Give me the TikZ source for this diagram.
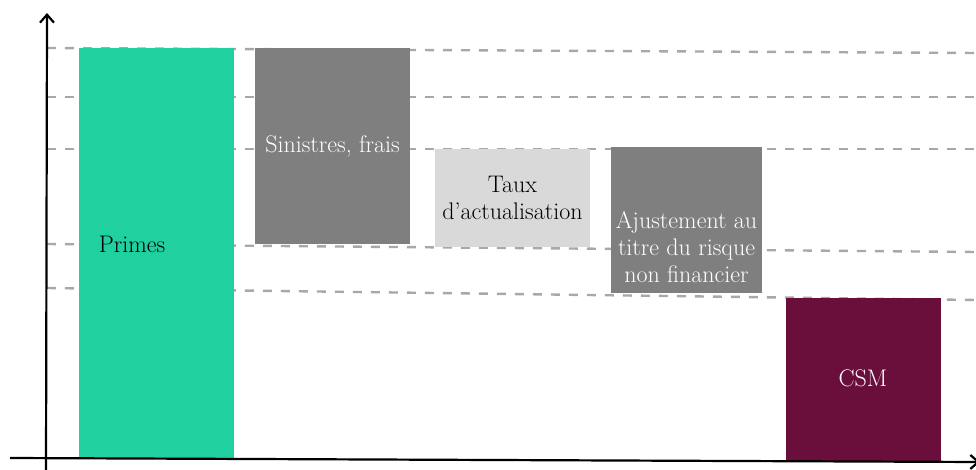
\documentclass[tikz,border=0pt]{standalone}
\usetikzlibrary{arrows.meta}
\definecolor{cgreen}{HTML}{20D09E}
\definecolor{cgray}{HTML}{7F7F7F}
\definecolor{clight}{HTML}{D9D9D9}
\definecolor{cmaroon}{HTML}{6A0F3B}
\definecolor{cdash}{HTML}{A8A8A8}
\tikzset{
  bar/.style={rectangle, inner sep=0pt, outer sep=0pt, anchor=north west},
  lbl/.style={align=center, font=\fontsize{24}{27}\selectfont, inner sep=0pt},
  guide/.style={draw=cdash, line width=2.4pt, dash pattern=on 9pt off 9pt},
  axis/.style={draw=black, line width=2.2pt}
}
\begin{document}
\begin{tikzpicture}[x=1pt,y=-1pt]
\useasboundingbox (0,0) rectangle (976,470);
% guide lines
\coordinate (g1a) at (47,48);  \coordinate (g1b) at (976,53);
\coordinate (g2a) at (47,97);  \coordinate (g2b) at (976,97);
\coordinate (g3a) at (47,149); \coordinate (g3b) at (976,149);
\coordinate (g4a) at (47,244); \coordinate (g4b) at (976,252);
\coordinate (g5a) at (47,288); \coordinate (g5b) at (976,300);
\foreach \i in {1,...,5} {\draw[guide] (g\i a) -- (g\i b);}
% bars
\node[bar, fill=cgreen, minimum width=155pt, minimum height=410pt] (primes) at (79,48) {};
\node[bar, fill=cgray, minimum width=155pt, minimum height=196pt] (sin) at (255,48) {};
\node[bar, fill=clight, minimum width=155pt, minimum height=98pt] (taux) at (435,149) {};
\node[bar, fill=cgray, minimum width=151pt, minimum height=146pt] (aju) at (611,147) {};
\node[bar, fill=cmaroon, minimum width=155pt, minimum height=164pt] (csm) at (786,298) {};
% labels
\node[lbl] (tprimes) at (132,244) {Primes};
\node[lbl, text=white] (tsin) at (sin.center) {Sinistres, frais};
\node[lbl] (ttaux) at (taux.center) {Taux\\d'actualisation};
\node[lbl, text=white] (taju) at ([yshift=-27pt]aju.center) {Ajustement au\\titre du risque\\non financier};
\node[lbl, text=white] (tcsm) at (863,378) {CSM};
% axes
\coordinate (yb) at (46,472); \coordinate (yt) at (47,13);
\coordinate (xl) at (10,458); \coordinate (xr) at (980,462);
\draw[axis, -{Straight Barb[length=8pt,width=14pt]}] (yb) -- (yt);
\draw[axis, -{Straight Barb[length=8pt,width=14pt]}] (xl) -- (xr);
\end{tikzpicture}
\end{document}
